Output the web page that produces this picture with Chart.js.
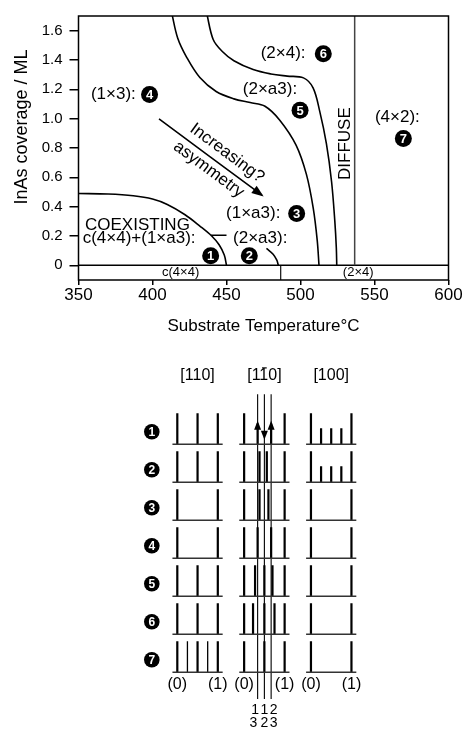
<!DOCTYPE html>
<html>
<head>
<meta charset="utf-8">
<script src="https://cdn.jsdelivr.net/npm/chart.js@4/dist/chart.umd.min.js"></script>
<style>
  html, body { margin: 0; padding: 0; background: #fff; }
  #top { position: absolute; left: 0; top: 0; }
  #bottom { position: absolute; left: 0; top: 340px; }
</style>
</head>
<body>
<canvas id="top" width="467" height="340"></canvas>
<canvas id="bottom" width="467" height="392"></canvas>
<script>
"use strict";
const ff = '"Liberation Sans", Arial, Helvetica, sans-serif';
Chart.defaults.font.family = ff;
Chart.defaults.color = "#000";

// ---- phase diagram (substrate temperature / InAs coverage) ----
const tempTicks = [350, 400, 450, 500, 550, 600];
const coverageTicks = [0, 0.2, 0.4, 0.6, 0.8, 1.0, 1.2, 1.4, 1.6];

const coexistEdge = [[350, 0.49], [370, 0.486], [387, 0.474], [400, 0.452], [410, 0.415], [422, 0.345], [432, 0.268], [440, 0.2], [445, 0.14], [448.5, 0.07], [450, 0]];
const lowArc = [[477, 0.116], [481.5, 0.076], [484, 0.035], [485, 0]];
const innerEdge = [[413, 1.72], [417, 1.55], [423, 1.42], [432, 1.28], [443, 1.185], [455, 1.135], [466, 1.11], [476, 1.085], [486, 0.99], [497, 0.82], [504, 0.62], [508.6, 0.39], [511.3, 0.17], [512.5, 0]];
const outerEdge = [[436.6, 1.72], [441, 1.54], [447, 1.46], [455, 1.395], [468, 1.335], [480, 1.305], [491, 1.29], [502, 1.278], [508.5, 1.21], [513, 1.05], [517.5, 0.83], [521, 0.57], [523.2, 0.3], [524.2, 0.12], [524.5, 0]];
const diffuseEdge = [[536.6, 0], [536.6, 1.7]];
const zeroLine = [[350, 0], [600, 0]];
const bandDivider = [[486.6, 0], [486.6, -0.1]];
const leaderDash = [[439.5, 0.205], [450, 0.205]];
const asymArrow = [[404.4, 0.998], [474, 0.478]];

const phaseLabels = [
  { text: "(1×3):", t: 358.4, c: 1.165 },
  { text: "(2×4):", t: 473.1, c: 1.443 },
  { text: "(2×a3):", t: 461, c: 1.198 },
  { text: "(4×2):", t: 550.3, c: 1.009 },
  { text: "(1×a3):", t: 449.7, c: 0.353 },
  { text: "(2×a3):", t: 454.4, c: 0.187 },
  { text: "COEXISTING", t: 354.4, c: 0.276 },
  { text: "c(4×4)+(1×a3):", t: 352.8, c: 0.183 },
];
const phaseBadges = [
  { n: "1", t: 439.3, c: 0.065 },
  { n: "2", t: 465.4, c: 0.065 },
  { n: "3", t: 497.4, c: 0.353 },
  { n: "4", t: 398, c: 1.165 },
  { n: "5", t: 499.7, c: 1.058 },
  { n: "6", t: 515.4, c: 1.443 },
  { n: "7", t: 569.5, c: 0.865 },
];
const bandLabels = [
  { text: "c(4×4)", t: 419, c: -0.05 },
  { text: "(2×4)", t: 539, c: -0.05 },
];

const toXY = (arr) => arr.map(([x, y]) => ({ x, y }));
const lineSet = (arr, color, width) => ({
  data: toXY(arr),
  showLine: true,
  borderColor: color || "#000",
  borderWidth: width || 1.6,
  pointRadius: 0,
  tension: 0.35,
  fill: false,
});

function drawBadge(ctx, x, y, r, n, size) {
  ctx.beginPath();
  ctx.arc(x, y, r, 0, Math.PI * 2);
  ctx.fillStyle = "#000";
  ctx.fill();
  ctx.fillStyle = "#fff";
  ctx.font = "bold " + size + "px " + ff;
  ctx.textAlign = "center";
  ctx.textBaseline = "middle";
  ctx.fillText(n, x, y + 1);
}

const phaseDecor = {
  id: "phaseDecor",
  afterDatasetsDraw(chart) {
    const { ctx, chartArea: a } = chart;
    const xs = chart.scales.x, ys = chart.scales.y;
    ctx.save();
    ctx.strokeStyle = "#000";
    ctx.lineWidth = 1.5;
    ctx.strokeRect(a.left, a.top, a.right - a.left, a.bottom - a.top);

    ctx.fillStyle = "#000";
    ctx.font = "17px " + ff;
    ctx.textAlign = "left";
    ctx.textBaseline = "middle";
    phaseLabels.forEach((l) => ctx.fillText(l.text, xs.getPixelForValue(l.t), ys.getPixelForValue(l.c)));

    ctx.font = "13px " + ff;
    ctx.textAlign = "center";
    bandLabels.forEach((l) => ctx.fillText(l.text, xs.getPixelForValue(l.t), ys.getPixelForValue(l.c)));

    phaseBadges.forEach((b) => drawBadge(ctx, xs.getPixelForValue(b.t), ys.getPixelForValue(b.c), 8.5, b.n, 13));

    // DIFFUSE
    ctx.save();
    ctx.translate(xs.getPixelForValue(530), ys.getPixelForValue(0.83));
    ctx.rotate(-Math.PI / 2);
    ctx.fillStyle = "#000";
    ctx.font = "17px " + ff;
    ctx.textAlign = "center";
    ctx.textBaseline = "middle";
    ctx.fillText("DIFFUSE", 0, 0);
    ctx.restore();

    // arrow head and rotated texts
    const meta = chart.getDatasetMeta(chart.data.datasets.length - 1);
    const p0 = meta.data[0], p1 = meta.data[1];
    const ang = Math.atan2(p1.y - p0.y, p1.x - p0.x);
    ctx.save();
    ctx.translate(p1.x, p1.y);
    ctx.rotate(ang);
    ctx.beginPath();
    ctx.moveTo(2, 0);
    ctx.lineTo(-10, -4.5);
    ctx.lineTo(-10, 4.5);
    ctx.closePath();
    ctx.fillStyle = "#000";
    ctx.fill();
    ctx.restore();

    ctx.save();
    ctx.translate(p0.x, p0.y);
    ctx.rotate(ang);
    ctx.fillStyle = "#000";
    ctx.font = "17px " + ff;
    ctx.textAlign = "center";
    ctx.textBaseline = "middle";
    ctx.fillText("Increasing?", 75, -13);
    ctx.fillText("asymmetry", 70, 11);
    ctx.restore();

    // y axis title
    ctx.save();
    ctx.translate(22, 127);
    ctx.rotate(-Math.PI / 2);
    ctx.fillStyle = "#000";
    ctx.font = "18px " + ff;
    ctx.textAlign = "center";
    ctx.textBaseline = "middle";
    ctx.fillText("InAs coverage / ML", 0, 0);
    ctx.restore();
    ctx.restore();
  },
};

const phaseChart = new Chart(document.getElementById("top"), {
  type: "scatter",
  data: {
    datasets: [
      lineSet(coexistEdge),
      lineSet(lowArc),
      lineSet(innerEdge),
      lineSet(outerEdge),
      lineSet(diffuseEdge, "#444", 1.5),
      lineSet(zeroLine, "#000", 1.5),
      lineSet(bandDivider, "#222", 1.3),
      lineSet(leaderDash, "#000", 1.3),
      lineSet(asymArrow, "#000", 1.6),
    ],
  },
  options: {
    responsive: false,
    animation: false,
    layout: { padding: { top: 9.5, right: 18.5, left: 0, bottom: 0 } },
    plugins: { legend: { display: false }, tooltip: { enabled: false } },
    scales: {
      x: {
        type: "linear",
        min: 350,
        max: 600,
        afterBuildTicks: (s) => { s.ticks = tempTicks.map((v) => ({ value: v })); },
        afterFit: (s) => { s.height = 60; },
        ticks: { font: { size: 17 }, padding: 0, color: "#000", maxRotation: 0 },
        grid: { drawOnChartArea: false, tickLength: 5, color: "#000", lineWidth: 1.5 },
        border: { display: false },
        title: { display: true, text: "Substrate Temperature°C", font: { size: 17 }, color: "#000", padding: { top: 2, bottom: 3 } },
      },
      y: {
        type: "linear",
        min: -0.1,
        max: 1.7,
        afterBuildTicks: (s) => { s.ticks = coverageTicks.map((v) => ({ value: v })); },
        afterFit: (s) => { s.width = 78.5; },
        ticks: { font: { size: 15 }, padding: 7, color: "#000", callback: (v) => (v === 0 ? "0" : v.toFixed(1)) },
        grid: { drawOnChartArea: false, tickLength: 9, color: "#000", lineWidth: 1.5 },
        border: { display: false },
      },
    },
  },
  plugins: [phaseDecor],
});

// ---- diffraction patterns for each phase ----
const rowBadges = ["1", "2", "3", "4", "5", "6", "7"];
const columnHeads = ["[110]", "[110]", "[100]"];
const columnBar = [-1, 2, -1]; // character index carrying the bar
const colOffset = [0, 1.65, 3.3];

const strong110 = [[0, 0.5, 1], [0, 0.5, 1], [0, 1], [0, 1], [0, 0.5, 1], [0, 0.5, 1], [0, 0.5, 1]];
const weak110 = [[], [], [], [], [], [], [0.25, 0.75]];
const strong1m10 = [[0, 1], [0, 0.38, 0.56, 1], [0, 0.38, 0.6, 1], [0, 0.333, 0.667, 1], [0, 0.27, 0.5, 0.7, 1], [0, 0.22, 0.5, 0.75, 1], [0, 0.5, 1]];
const stems1m10 = [[0.333, 0.667], [], [], [], [], [], []];
const strong100 = [[0, 1], [0, 1], [0, 1], [0, 1], [0, 1], [0, 1], [0, 1]];
const short100 = [[0.25, 0.5, 0.75], [0.25, 0.5, 0.75], [], [], [], [], []];
const guideLines = [1 / 3, 1 / 2, 2 / 3];
const arrowsUp = [1 / 3, 2 / 3];
const arrowsDown = [1 / 2];
const fracTop = ["1", "1", "2"];
const fracBottom = ["3", "2", "3"];
const fracTopX = [0.27, 0.5, 0.73];
const fracBottomX = [0.23, 0.5, 0.73];

const gap = (x) => ({ x, y: null });

function spikeData(lists, col, h) {
  const pts = [];
  lists.forEach((list, i) => {
    const base = -(i + 1);
    list.forEach((f) => {
      const x = colOffset[col] + f;
      pts.push({ x, y: base }, { x, y: base + h }, gap(x));
    });
  });
  return pts;
}

function baselineData() {
  const pts = [];
  colOffset.forEach((off) => {
    rowBadges.forEach((_, i) => {
      pts.push({ x: off - 0.12, y: -(i + 1) }, { x: off + 1.12, y: -(i + 1) }, gap(off));
    });
  });
  return pts;
}

function guideData() {
  const pts = [];
  guideLines.forEach((g) => {
    const x = colOffset[1] + g;
    pts.push({ x, y: 0.32 }, { x, y: -7.7 }, gap(x));
  });
  return pts;
}

const segSet = (data, color, width) => ({
  data,
  showLine: true,
  spanGaps: false,
  borderColor: color,
  borderWidth: width,
  pointRadius: 0,
  tension: 0,
});

const patternDecor = {
  id: "patternDecor",
  afterDatasetsDraw(chart) {
    const { ctx } = chart;
    const xs = chart.scales.x, ys = chart.scales.y;
    ctx.save();
    // row badges
    rowBadges.forEach((n, i) => drawBadge(ctx, xs.getPixelForValue(-0.63), ys.getPixelForValue(-(i + 1) + 0.33), 7.8, n, 12));

    // column heads
    ctx.fillStyle = "#000";
    ctx.font = "16px " + ff;
    ctx.textAlign = "left";
    ctx.textBaseline = "middle";
    columnHeads.forEach((h, c) => {
      const w = ctx.measureText(h).width;
      const x0 = xs.getPixelForValue(colOffset[c] + 0.5) - w / 2;
      const y0 = ys.getPixelForValue(0.8);
      ctx.fillText(h, x0, y0);
      if (columnBar[c] >= 0) {
        const a = ctx.measureText(h.slice(0, columnBar[c])).width;
        const b = ctx.measureText(h.slice(0, columnBar[c] + 1)).width;
        ctx.beginPath();
        ctx.moveTo(x0 + a + 1.5, y0 - 8);
        ctx.lineTo(x0 + b - 1.5, y0 - 8);
        ctx.lineWidth = 1.2;
        ctx.strokeStyle = "#000";
        ctx.stroke();
      }
    });

    // (0) and (1) under each column
    ctx.textAlign = "center";
    colOffset.forEach((off) => {
      ctx.fillText("(0)", xs.getPixelForValue(off), ys.getPixelForValue(-7.33));
      ctx.fillText("(1)", xs.getPixelForValue(off + 1), ys.getPixelForValue(-7.33));
    });

    // fractions under the guide lines
    ctx.font = "14px " + ff;
    fracTop.forEach((t, i) => {
      ctx.fillText(t, xs.getPixelForValue(colOffset[1] + fracTopX[i]), ys.getPixelForValue(-8.0));
      ctx.fillText(fracBottom[i], xs.getPixelForValue(colOffset[1] + fracBottomX[i]), ys.getPixelForValue(-8.34));
    });

    // arrow heads in the first row
    const head = (f, tipV, dir) => {
      const x = xs.getPixelForValue(colOffset[1] + f);
      const y = ys.getPixelForValue(tipV);
      ctx.beginPath();
      ctx.moveTo(x, y);
      ctx.lineTo(x - 3.5, y + dir * 9);
      ctx.lineTo(x + 3.5, y + dir * 9);
      ctx.closePath();
      ctx.fillStyle = "#000";
      ctx.fill();
    };
    arrowsUp.forEach((f) => head(f, -1 + 0.62, 1));
    arrowsDown.forEach((f) => head(f, -1 + 0.12, -1));
    ctx.restore();
  },
};

const patternChart = new Chart(document.getElementById("bottom"), {
  type: "scatter",
  data: {
    datasets: [
      segSet(baselineData(), "#333", 1.5),
      segSet(guideData(), "#000", 1.1),
      segSet(spikeData(strong110, 0, 0.82), "#000", 2.2),
      segSet(spikeData(weak110, 0, 0.82), "#000", 1.3),
      segSet(spikeData(strong1m10, 1, 0.82), "#000", 2.2),
      segSet(spikeData(stems1m10, 1, 0.55), "#000", 2.2),
      segSet(spikeData(strong100, 2, 0.82), "#000", 2.2),
      segSet(spikeData(short100, 2, 0.42), "#000", 2.2),
    ],
  },
  options: {
    responsive: false,
    animation: false,
    layout: { padding: 0 },
    plugins: { legend: { display: false }, tooltip: { enabled: false } },
    scales: {
      x: { type: "linear", display: false, min: -4.378, max: 7.153 },
      y: { type: "linear", display: false, min: -8.571, max: 1.745 },
    },
  },
  plugins: [patternDecor],
});
</script>
</body>
</html>
